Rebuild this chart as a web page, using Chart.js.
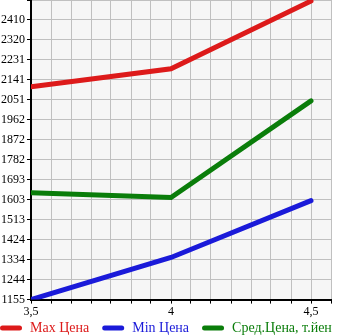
<!DOCTYPE html>
<html>
<head>
<meta charset="utf-8">
<script src="https://cdn.jsdelivr.net/npm/chart.js@4"></script>
<style>
  html, body { margin: 0; padding: 0; background: #fff; }
  #wrap { width: 345px; height: 335px; }
</style>
</head>
<body>
<div id="wrap"><canvas id="myChart" width="345" height="335"></canvas></div>
<script>
var xValues = [3.5, 4, 4.5];
var maxPrice = [2110, 2191, 2495];
var minPrice = [1155, 1344, 1599];
var avgPrice = [1635, 1613, 2047];
var yTickLabels = ["1155", "1244", "1334", "1424", "1513", "1603", "1693", "1782", "1872", "1962", "2051", "2141", "2231", "2320", "2410"];
var xTickLabels = { "3.5": "3,5", "4": "4", "4.5": "4,5" };

var yMin = 1155;
var yStep = (2410 - 1155) / 14;
var xStep = 0.5 / 7;

var serif = "'Liberation Serif', 'DejaVu Serif', serif";

function points(values) {
  return values.map(function (v, i) {
    return { x: xValues[i], y: v };
  });
}

var plotBg = {
  id: "plotBg",
  beforeDraw: function (chart) {
    var a = chart.chartArea;
    var ctx = chart.ctx;
    ctx.save();
    ctx.fillStyle = "#f6f6f6";
    ctx.fillRect(a.left, a.top, a.right - a.left, a.bottom - a.top);
    ctx.restore();
  }
};

// one-row legend along the bottom, coloured text like the original
var bottomLegend = {
  id: "bottomLegend",
  afterDraw: function (chart) {
    var ctx = chart.ctx;
    var x = 0;
    var y = 328;
    ctx.save();
    ctx.font = "14px " + serif;
    ctx.textBaseline = "middle";
    chart.data.datasets.forEach(function (ds) {
      ctx.strokeStyle = ds.borderColor;
      ctx.lineWidth = 5;
      ctx.lineCap = "round";
      ctx.beginPath();
      ctx.moveTo(x + 2.5, y);
      ctx.lineTo(x + 19.5, y);
      ctx.stroke();
      ctx.fillStyle = ds.borderColor;
      ctx.fillText(ds.label, x + 30, y);
      x = x + 30 + ctx.measureText(ds.label).width + 13;
    });
    ctx.restore();
  }
};

var ctx = document.getElementById("myChart").getContext("2d");
var myChart = new Chart(ctx, {
  type: "line",
  data: {
    datasets: [
      { label: "Max Цена", data: points(maxPrice), borderColor: "#dd1a1a", backgroundColor: "#dd1a1a" },
      { label: "Min Цена", data: points(minPrice), borderColor: "#1a1ad9", backgroundColor: "#1a1ad9" },
      { label: "Сред.Цена, т.йен", data: points(avgPrice), borderColor: "#0a7d0a", backgroundColor: "#0a7d0a" }
    ]
  },
  options: {
    responsive: false,
    animation: false,
    layout: { padding: { top: 0, right: 14, left: 0, bottom: 15 } },
    elements: {
      line: { borderWidth: 5, tension: 0, borderCapStyle: "round" },
      point: { radius: 0 }
    },
    scales: {
      x: {
        type: "linear",
        min: 3.5,
        max: 4.5 + xStep,
        afterBuildTicks: function (scale) {
          var t = [];
          for (var i = 0; i <= 15; i++) t.push({ value: 3.5 + i * xStep });
          scale.ticks = t;
        },
        ticks: {
          autoSkip: false,
          maxRotation: 0,
          padding: 1,
          color: "#000",
          font: { family: serif, size: 12 },
          callback: function (v) {
            var r = Math.round(v * 2) / 2;
            if (Math.abs(v - r) < 1e-6) return xTickLabels[String(r)];
            return "";
          }
        },
        grid: { color: "#c0c0c0", tickColor: "#000", tickLength: 4, lineWidth: 1 },
        border: { color: "#000", width: 2 }
      },
      y: {
        type: "linear",
        min: yMin,
        max: yMin + 15 * yStep,
        afterBuildTicks: function (scale) {
          var t = [];
          for (var i = 0; i <= 15; i++) t.push({ value: yMin + i * yStep });
          scale.ticks = t;
        },
        afterFit: function (scale) {
          scale.width = 31;
          scale.paddingTop = 0;
        },
        ticks: {
          autoSkip: false,
          padding: 2,
          color: "#000",
          font: { family: serif, size: 12 },
          callback: function (v, i) {
            return yTickLabels[i] || "";
          }
        },
        grid: { color: "#c0c0c0", tickColor: "#000", tickLength: 4, lineWidth: 1 },
        border: { color: "#000", width: 2 }
      }
    },
    plugins: {
      tooltip: { enabled: false },
      legend: { display: false }
    }
  },
  plugins: [plotBg, bottomLegend]
});
</script>
</body>
</html>
